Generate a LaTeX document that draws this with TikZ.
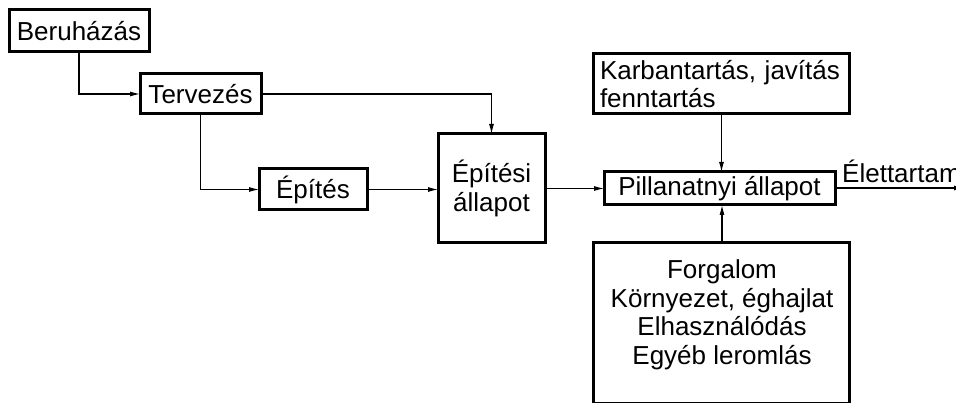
\documentclass[tikz,border=0pt]{standalone}
\usepackage{fontspec}
\setmainfont{Liberation Sans}
\usetikzlibrary{arrows.meta}

\tikzset{
  box/.style={draw, line width=3pt, rectangle, inner sep=0pt, outer sep=0pt,
    font=\fontsize{26}{28.5}\selectfont, align=center},
  flow/.style={line width=1.1pt, -{Latex[length=10pt,width=5pt]}},
  lbl/.style={font=\fontsize{26}{28.5}\selectfont, inner sep=0pt}
}

\begin{document}
\begin{tikzpicture}[x=1pt,y=-1pt]
  \useasboundingbox (0,0) rectangle (956,403);
  \clip (0,0) rectangle (956,403);
  \fill[white] (0,0) rectangle (956,403);

  % boxes
  \node[box, minimum width=140pt, minimum height=42pt] (beru) at (79,31) {Beruházás};
  \node[box, minimum width=121pt, minimum height=40pt] (terv) at (200.5,94) {Tervezés};
  \node[box, minimum width=108pt, minimum height=41pt] (epit) at (313,189.5) {Építés};
  \node[box, minimum width=107pt, minimum height=109pt] (epall) at (491.5,188.5) {Építési\\állapot};
  \node[box, minimum width=231pt, minimum height=33pt] (pill) at (719.5,188.5) {Pillanatnyi állapot};
  \node[box, minimum width=256pt, minimum height=60pt, align=left,
        text width=242pt, inner xsep=7pt] (karb) at (721,84) {Karbantartás, javítás\\fenntartás};
  \node[box, minimum width=256pt, minimum height=160pt] (env) at (721,323) {};
  \node[lbl, align=center] (envtext) at (722,315)
    {Forgalom\\Környezet, éghajlat\\Elhasználódás\\Egyéb leromlás};

  % end point of the lifetime arrow, beyond the right edge
  \coordinate (lifeend) at (964,188);

  % connectors
  \draw[flow] (beru.south) |- (terv.west);
  \draw[flow] (terv.east) -| (epall.north);
  \draw[flow] (terv.south) |- (epit.west);
  \draw[flow] (epit.east) -- (epall.west |- epit.east);
  \draw[flow] (epall.east |- pill.west) -- (pill.west);
  \draw[flow] (karb.south -| pill.north) ++(2,0) -- ([xshift=2pt]pill.north);
  \draw[flow] ([xshift=1pt]env.north) -- ([xshift=2.5pt]pill.south);
  \draw[flow] (pill.east |- lifeend) -- (lifeend);
  \node[lbl, anchor=base west] (life) at (842,183) {Élettartam};
\end{tikzpicture}
\end{document}
